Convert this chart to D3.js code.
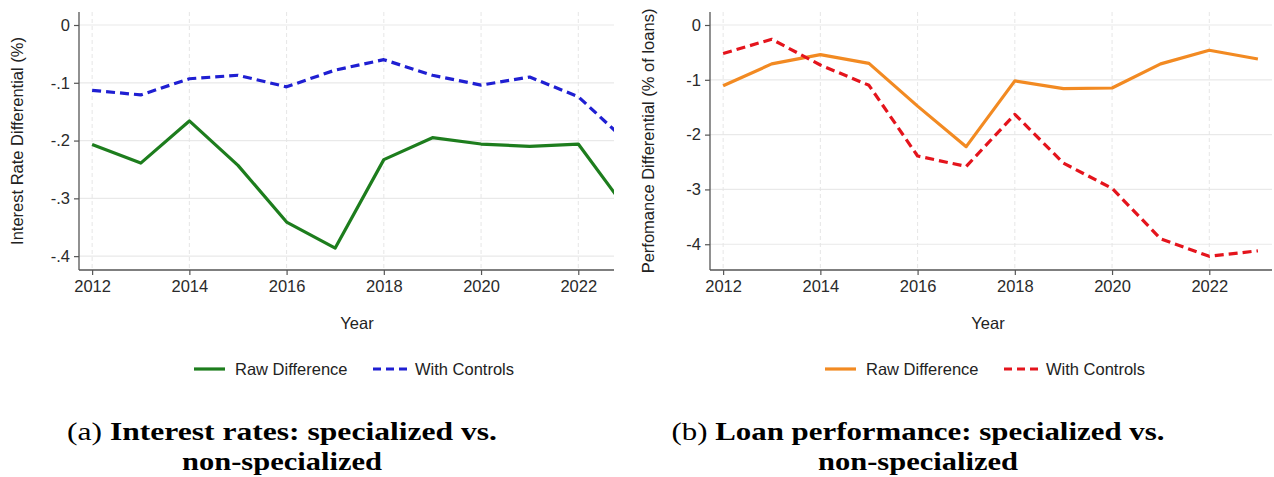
<!DOCTYPE html>
<html>
<head>
<meta charset="utf-8">
<script src="https://cdn.jsdelivr.net/npm/d3@7"></script>
<style>
  html, body { margin: 0; padding: 0; background: #fff; }
  svg { display: block; }
  .sans { font-family: "Liberation Sans", Arial, Helvetica, sans-serif; }
</style>
</head>
<body>
<svg id="chart" width="1274" height="477"></svg>
<script>
// ---------- data ----------
const years = [2012, 2013, 2014, 2015, 2016, 2017, 2018, 2019, 2020, 2021, 2022, 2023];
const xTickYears = [2012, 2014, 2016, 2018, 2020, 2022];

// Panel (a): interest rate differential (%)
const rateRaw      = [-0.207, -0.239, -0.166, -0.243, -0.341, -0.386, -0.233, -0.195, -0.206, -0.210, -0.206, -0.320];
const rateControls = [-0.113, -0.121, -0.093, -0.087, -0.107, -0.078, -0.060, -0.087, -0.104, -0.090, -0.124, -0.202];
const rateTicks = [0, -0.1, -0.2, -0.3, -0.4];
const rateTickLabels = ["0", "-.1", "-.2", "-.3", "-.4"];

// Panel (b): performance differential (% of loans)
const perfRaw      = [-1.11, -0.71, -0.54, -0.70, -1.48, -2.22, -1.02, -1.16, -1.15, -0.71, -0.46, -0.62];
const perfControls = [-0.52, -0.26, -0.73, -1.10, -2.39, -2.58, -1.63, -2.52, -2.98, -3.90, -4.22, -4.12];
const perfTicks = [0, -1, -2, -3, -4];
const perfTickLabels = ["0", "-1", "-2", "-3", "-4"];

const seriesNames = ["Raw Difference", "With Controls"];

// ---------- layout ----------
const svg = d3.select("#chart");
const plotTop = 12, plotBottom = 270;
const plotW = 562;
const xDomain = [2011.73, 2023.29];

const panels = [
  {
    left: 79, clipRight: 614,
    yDomain: [0.0225, -0.424], ticks: rateTicks, labels: rateTickLabels,
    ytitle: "Interest Rate Differential (%)",
    data: [rateRaw, rateControls], colors: ["#1d7d1d", "#1f1fd2"],
    capTag: "(a) ", capBold: "Interest rates: specialized vs.", capW1: 430, capX: 282
  },
  {
    left: 710, clipRight: 1274,
    yDomain: [0.237, -4.47], ticks: perfTicks, labels: perfTickLabels,
    ytitle: "Perfomance Differential (% of loans)",
    data: [perfRaw, perfControls], colors: ["#f28a22", "#e4141c"],
    capTag: "(b) ", capBold: "Loan performance: specialized vs.", capW1: 493, capX: 918
  }
];

const defs = svg.append("defs");

panels.forEach((p, i) => {
  const right = p.left + plotW;
  const x = d3.scaleLinear().domain(xDomain).range([p.left, right]);
  const y = d3.scaleLinear().domain(p.yDomain).range([plotTop, plotBottom]);

  defs.append("clipPath").attr("id", "panelclip" + i)
    .append("rect").attr("x", 0).attr("y", 0)
    .attr("width", p.clipRight).attr("height", 477);
  defs.append("clipPath").attr("id", "plotclip" + i)
    .append("rect").attr("x", p.left).attr("y", plotTop)
    .attr("width", Math.min(right, p.clipRight) - p.left).attr("height", plotBottom - plotTop);

  const g = svg.append("g").attr("clip-path", `url(#panelclip${i})`);

  // horizontal gridlines
  g.append("g").selectAll("line").data(p.ticks).join("line")
    .attr("x1", p.left).attr("x2", right)
    .attr("y1", d => y(d)).attr("y2", d => y(d))
    .attr("stroke", "#e9e9e9").attr("stroke-width", 1.2);

  // vertical dashed gridlines
  g.append("g").selectAll("line").data(xTickYears).join("line")
    .attr("x1", d => x(d)).attr("x2", d => x(d))
    .attr("y1", plotTop).attr("y2", plotBottom)
    .attr("stroke", "#e6e6e6").attr("stroke-width", 1)
    .attr("stroke-dasharray", "4,3");

  // y axis
  const yAxis = d3.axisLeft(y).tickValues(p.ticks)
    .tickFormat((d, k) => p.labels[k]).tickSize(5).tickPadding(4);
  const ya = g.append("g").attr("transform", `translate(${p.left},0)`).call(yAxis);
  ya.select(".domain").attr("d", `M0,${plotTop}V${plotBottom}`).attr("stroke", "#555").attr("stroke-width", 1.3);
  ya.selectAll(".tick line").attr("stroke", "#555").attr("stroke-width", 1.2);
  ya.selectAll(".tick text").attr("class", "sans").attr("font-size", 16.5).attr("fill", "#2a2a2a");

  // x axis
  const xAxis = d3.axisBottom(x).tickValues(xTickYears)
    .tickFormat(d3.format("d")).tickSize(5).tickPadding(5);
  const xa = g.append("g").attr("transform", `translate(0,${plotBottom})`).call(xAxis);
  xa.select(".domain").attr("d", `M${p.left},0H${right}`).attr("stroke", "#555").attr("stroke-width", 1.3);
  xa.selectAll(".tick line").attr("stroke", "#555").attr("stroke-width", 1.2);
  xa.selectAll(".tick text").attr("class", "sans").attr("font-size", 16.5).attr("fill", "#2a2a2a");

  // lines
  const line = d3.line().x((d, k) => x(years[k])).y(d => y(d));
  const lg = g.append("g").attr("clip-path", `url(#plotclip${i})`);
  p.data.forEach((vals, s) => {
    lg.append("path").datum(vals)
      .attr("d", line)
      .attr("fill", "none")
      .attr("stroke", p.colors[s])
      .attr("stroke-width", 3.2)
      .attr("stroke-linejoin", "round")
      .attr("stroke-dasharray", s === 1 ? "9,5" : null);
  });

  // y title
  svg.append("text").attr("class", "sans")
    .attr("transform", `translate(${p.left - 56},${(plotTop + plotBottom) / 2}) rotate(-90)`)
    .attr("text-anchor", "middle").attr("font-size", 16.5).attr("fill", "#222")
    .text(p.ytitle);

  // x title
  const cx = p.left + plotW / 2 - 3;
  svg.append("text").attr("class", "sans")
    .attr("x", cx).attr("y", 329)
    .attr("text-anchor", "middle").attr("font-size", 16.5).attr("fill", "#222")
    .text("Year");

  // legend
  const lx = p.left + 115;
  const ly = 369;
  const leg = svg.append("g");
  leg.append("line").attr("x1", lx).attr("x2", lx + 31).attr("y1", ly).attr("y2", ly)
    .attr("stroke", p.colors[0]).attr("stroke-width", 3.2);
  leg.append("text").attr("class", "sans").attr("x", lx + 41).attr("y", ly + 6)
    .attr("font-size", 16.5).attr("fill", "#222").text(seriesNames[0]);
  leg.append("line").attr("x1", lx + 179).attr("x2", lx + 213).attr("y1", ly).attr("y2", ly)
    .attr("stroke", p.colors[1]).attr("stroke-width", 3.2).attr("stroke-dasharray", "8,5");
  leg.append("text").attr("class", "sans").attr("x", lx + 221).attr("y", ly + 6)
    .attr("font-size", 16.5).attr("fill", "#222").text(seriesNames[1]);

  // caption
  const cap = svg.append("text")
    .attr("x", p.capX).attr("y", 440)
    .attr("text-anchor", "middle")
    .attr("font-family", "'Liberation Serif', 'Times New Roman', serif")
    .attr("font-size", 25).attr("fill", "#000")
    .attr("textLength", p.capW1).attr("lengthAdjust", "spacingAndGlyphs");
  cap.append("tspan").text(p.capTag);
  cap.append("tspan").attr("font-weight", "bold").text(p.capBold);

  svg.append("text")
    .attr("x", p.capX).attr("y", 470)
    .attr("text-anchor", "middle")
    .attr("font-family", "'Liberation Serif', 'Times New Roman', serif")
    .attr("font-weight", "bold")
    .attr("font-size", 25).attr("fill", "#000")
    .attr("textLength", 200).attr("lengthAdjust", "spacingAndGlyphs")
    .text("non-specialized");
});
</script>
</body>
</html>
